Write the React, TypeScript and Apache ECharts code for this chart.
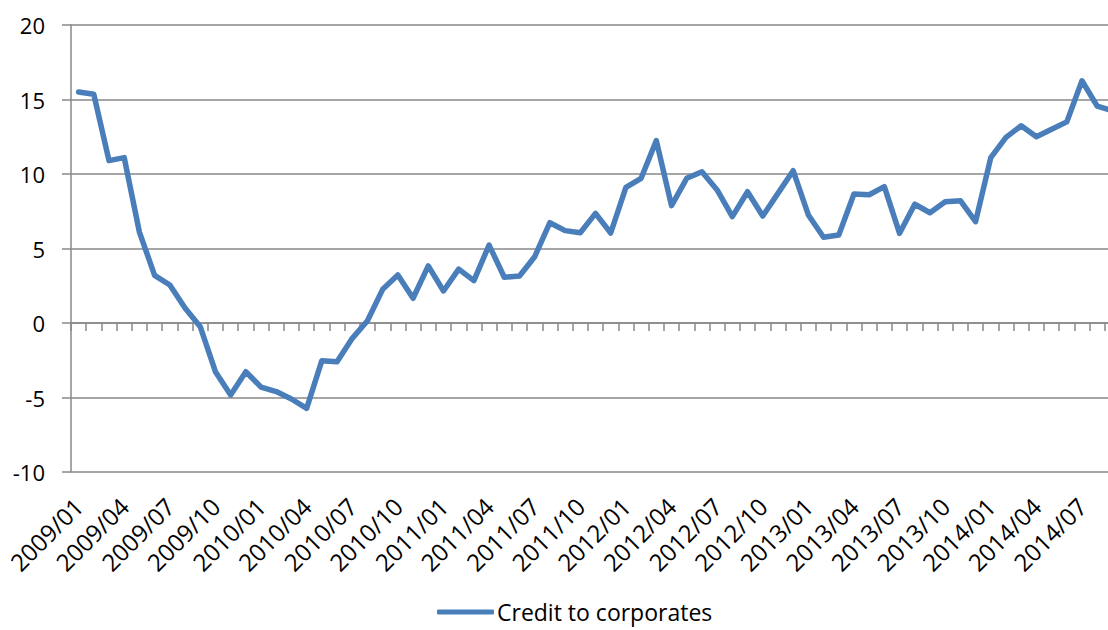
import React, { useEffect, useRef } from "react";
import * as echarts from "echarts";

const years = [2009, 2010, 2011, 2012, 2013, 2014];
const months = ["01", "02", "03", "04", "05", "06", "07", "08", "09", "10", "11", "12"];
const categories: string[] = [];
for (const y of years) {
  for (const m of months) {
    if (y === 2014 && Number(m) > 9) break;
    categories.push(`${y}/${m}`);
  }
}

const seriesName = "Credit to corporates";
const creditValues = [
  15.5, 15.35, 10.9, 11.1, 6.1, 3.2, 2.55, 1.0, -0.25, -3.27, -4.83, -3.27,
  -4.3, -4.6, -5.1, -5.73, -2.53, -2.6, -1.03, 0.15, 2.26, 3.22, 1.66, 3.83,
  2.15, 3.62, 2.84, 5.23, 3.07, 3.15, 4.45, 6.73, 6.2, 6.06, 7.36, 6.04,
  9.1, 9.71, 12.24, 7.88, 9.71, 10.15, 8.93, 7.14, 8.81, 7.18, 8.7, 10.22,
  7.25, 5.75, 5.9, 8.66, 8.61, 9.15, 6.02, 7.97, 7.4, 8.14, 8.21, 6.8,
  11.1, 12.46, 13.24, 12.5, 13.0, 13.5, 16.26, 14.56, 14.25,
];

const yMin = -10;
const yMax = 20;
const yStep = 5;

const FONT = "'Open Sans', sans-serif";
const GRID_COLOR = "#898989";
const LINE_COLOR = "#4a7ebb";

export default function App() {
  const ref = useRef<HTMLDivElement>(null);
  useEffect(() => {
    if (!ref.current) return;
    const chart = echarts.init(ref.current, undefined, { renderer: "svg" });
    chart.setOption({
      animation: false,
      backgroundColor: "#ffffff",
      textStyle: { fontFamily: FONT },
      grid: { left: 71, right: 0, top: 25, bottom: 158, containLabel: false },
      legend: {
        show: true,
        left: 437,
        top: 600,
        padding: 0,
        itemWidth: 57,
        itemHeight: 5,
        itemGap: 10,
        data: [{ name: seriesName, icon: "roundRect" }],
        textStyle: { fontFamily: FONT, fontSize: 23, lineHeight: 24, color: "#000", padding: [0, 0, 0, -2] },
      },
      xAxis: [
        {
          type: "category",
          data: categories,
          boundaryGap: true,
          axisLine: { show: true, onZero: true, lineStyle: { color: GRID_COLOR, width: 1.5 } },
          axisTick: { show: true, length: 8, interval: 0, lineStyle: { color: GRID_COLOR, width: 1.5 } },
          axisLabel: { show: false },
          splitLine: { show: false },
        },
        {
          type: "category",
          data: categories,
          boundaryGap: true,
          position: "bottom",
          axisLine: { show: false, onZero: false },
          axisTick: { show: false },
          axisLabel: {
            show: true,
            interval: 2,
            rotate: 45,
            margin: 30,
            fontFamily: FONT,
            fontSize: 24,
            color: "#000",
          },
          splitLine: { show: false },
        },
      ],
      yAxis: {
        type: "value",
        min: yMin,
        max: yMax,
        interval: yStep,
        axisLine: { show: true, lineStyle: { color: GRID_COLOR, width: 1.5 } },
        axisTick: { show: true, length: 9, lineStyle: { color: GRID_COLOR, width: 1.5 } },
        axisLabel: { margin: 26, fontFamily: FONT, fontSize: 22, color: "#000" },
        splitLine: { show: true, lineStyle: { color: GRID_COLOR, width: 1.5 } },
      },
      series: [
        {
          name: seriesName,
          type: "line",
          xAxisIndex: 0,
          data: creditValues,
          symbol: "none",
          showSymbol: false,
          lineStyle: { color: LINE_COLOR, width: 5.5, cap: "round", join: "round" },
          itemStyle: { color: LINE_COLOR },
        },
      ],
    });
    return () => chart.dispose();
  }, []);
  return (
    <div style={{ position: "fixed", left: 0, top: 0, width: 1108, height: 630, overflow: "hidden", background: "#fff" }}>
      <div ref={ref} style={{ width: 1120, height: 630 }} />
    </div>
  );
}
